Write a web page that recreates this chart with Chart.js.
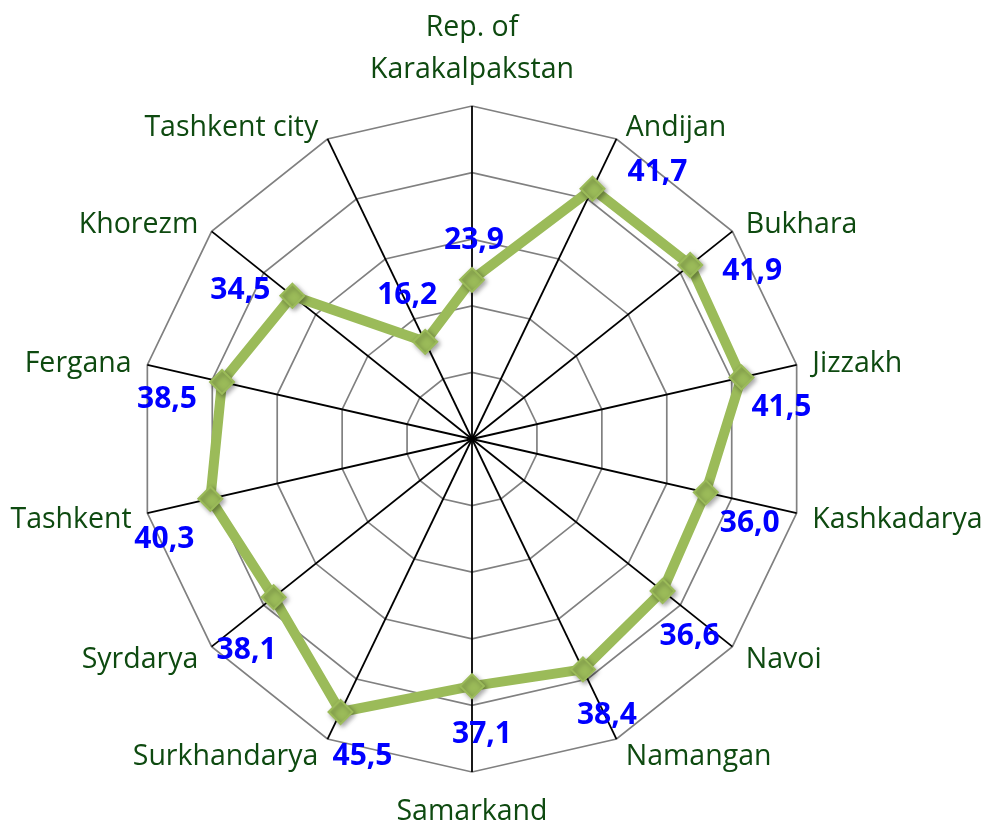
<!DOCTYPE html>
<html><head><meta charset="utf-8">
<script src="https://cdn.jsdelivr.net/npm/chart.js@4.4.1/dist/chart.umd.min.js"></script>
<style>html,body{margin:0;padding:0;background:#fff;}canvas{display:block;}</style>
</head><body>
<canvas id="c" width="991" height="825"></canvas>
<script>
const categories = [['Rep. of', 'Karakalpakstan'], 'Andijan', 'Bukhara', 'Jizzakh', 'Kashkadarya', 'Navoi', 'Namangan', 'Samarkand', 'Surkhandarya', 'Syrdarya', 'Tashkent', 'Fergana', 'Khorezm', 'Tashkent city'];
const values = [23.9, 41.7, 41.9, 41.5, 36.0, 36.6, 38.4, 37.1, 45.5, 38.1, 40.3, 38.5, 34.5, 16.2];
const scaleMin = 0;
const scaleMax = 50;
const scaleStep = 10;

// layout / style (not data)
const CENTER_X = 472, CENTER_Y = 439, RADIUS = 333;
const LABEL_SIZE = 28.5, LABEL_LH = 1.47;
const VALUE_SIZE = 30;
const valueLabelOffsets = [[2,-42],[65,-18],[62,4],[40,28],[44,29],[27,43],[24,44],[10,46],[22,42],[-27,51],[-46,39],[-55,15],[-52,-7],[-18,-49]];
const GREEN = '#9BBB59';

function placePointLabels(scale) {
  scale.xCenter = CENTER_X;
  scale.yCenter = CENTER_Y;
  scale.drawingArea = RADIUS;
  const ctx = scale.ctx;
  const lh = LABEL_SIZE * LABEL_LH;
  ctx.save();
  ctx.font = LABEL_SIZE + "px 'Open Sans'";
  const items = [];
  const n = scale._pointLabels.length;
  for (let i = 0; i < n; i++) {
    const lbl = scale._pointLabels[i];
    const lines = Array.isArray(lbl) ? lbl : [lbl];
    const w = Math.max(...lines.map(l => ctx.measureText(l).width));
    const h = lines.length * lh;
    const v = scale.getPointPosition(i, scale.drawingArea);
    const a = scale.getPointPosition(i, scale.drawingArea + 12);
    const dx = Math.cos(a.angle), dy = Math.sin(a.angle);
    let textAlign, x, top;
    if (Math.abs(dx) < 0.05) {
      textAlign = 'center'; x = v.x;
      top = dy < 0 ? v.y - 15 - h : v.y + 19;
    } else {
      textAlign = dx > 0 ? 'left' : 'right';
      x = a.x + (dx > 0 ? 4 : -4);
      top = a.y + 3 + 4 * dy - h / 2;
    }
    const left = textAlign === 'center' ? x - w / 2 : (textAlign === 'left' ? x : x - w);
    items.push({visible: true, x: x, y: top, textAlign: textAlign, left: left, top: top, right: left + w, bottom: top + h});
  }
  ctx.restore();
  scale._pointLabelItems = items;
}

const shadowPlugin = {
  id: 'markerShadow',
  beforeDatasetDraw(chart, args) {
    if (args.index === 0) {
      const ctx = chart.ctx;
      ctx.save();
      ctx.shadowColor = 'rgba(0,0,0,0.35)';
      ctx.shadowBlur = 5;
      ctx.shadowOffsetX = 2;
      ctx.shadowOffsetY = 2;
    }
  },
  afterDatasetDraw(chart, args) {
    if (args.index === 0) chart.ctx.restore();
  }
};

const valueLabelPlugin = {
  id: 'valueLabels',
  afterDatasetsDraw(chart) {
    const meta = chart.getDatasetMeta(0);
    const ctx = chart.ctx;
    ctx.save();
    ctx.font = "bold " + VALUE_SIZE + "px 'Open Sans'";
    ctx.fillStyle = '#0000FF';
    ctx.textAlign = 'center';
    ctx.textBaseline = 'alphabetic';
    meta.data.forEach((pt, i) => {
      const off = valueLabelOffsets[i];
      const txt = values[i].toFixed(1).replace('.', ',');
      ctx.fillText(txt, pt.x + off[0], pt.y + off[1] + VALUE_SIZE * 0.357);
    });
    ctx.restore();
  }
};

new Chart(document.getElementById('c'), {
  type: 'radar',
  data: {
    labels: categories,
    datasets: [
      {
        data: values,
        showLine: false,
        pointStyle: 'rectRot',
        pointRadius: 12,
        pointBackgroundColor: GREEN,
        pointBorderColor: GREEN,
        pointBorderWidth: 2,
        borderColor: GREEN,
        backgroundColor: 'transparent',
        fill: false
      },
      {
        data: values,
        borderColor: GREEN,
        borderWidth: 10,
        borderJoinStyle: 'round',
        pointRadius: 0,
        backgroundColor: 'transparent',
        fill: false
      }
    ]
  },
  options: {
    responsive: false,
    animation: false,
    events: [],
    layout: {padding: 0},
    plugins: {legend: {display: false}, tooltip: {enabled: false}},
    scales: {
      r: {
        min: scaleMin,
        max: scaleMax,
        ticks: {stepSize: scaleStep, display: false},
        grid: {circular: false, color: '#808080', lineWidth: 1.7},
        angleLines: {display: true, color: '#000000', lineWidth: 1.8},
        pointLabels: {
          display: true,
          color: '#0E4A10',
          font: {family: "'Open Sans'", size: LABEL_SIZE, lineHeight: LABEL_LH}
        },
        afterFit: placePointLabels
      }
    }
  },
  plugins: [shadowPlugin, valueLabelPlugin]
});
</script>
</body></html>
